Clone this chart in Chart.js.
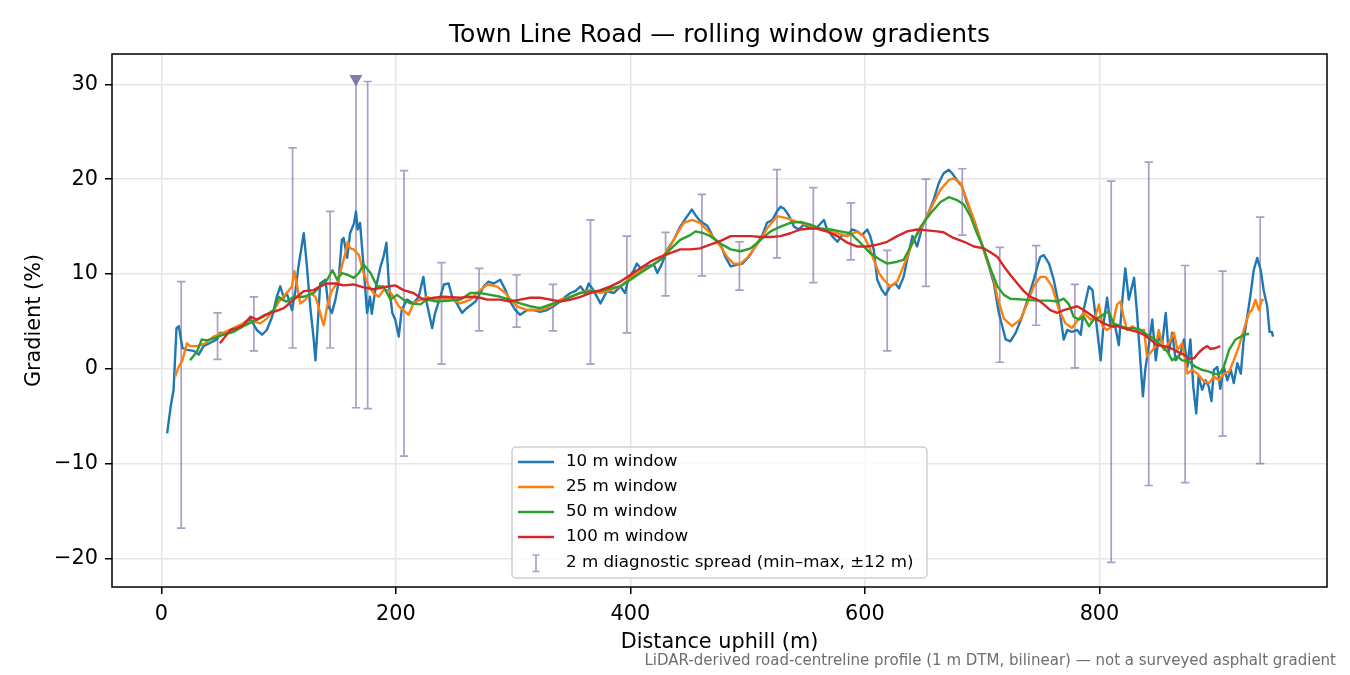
<!DOCTYPE html>
<html>
<head>
<meta charset="utf-8">
<title>Town Line Road gradients</title>
<script src="https://cdn.jsdelivr.net/npm/chart.js@4.4.1/dist/chart.umd.min.js"></script>
<style>
  html, body { margin: 0; padding: 0; background: #fff; }
</style>
</head>
<body>
<canvas id="myChart" width="1350" height="675"></canvas>
<script>
// [distance m, gradient %]
const profile10 = [
  [5,-6.8],[8,-4.0],[10.5,-2.2],[13,4.3],[15,4.5],[18,2.2],[22,2.0],[27.5,1.9],[32,1.5],[36,2.4],
  [47.5,3.1],[50,3.8],[59,3.8],[64.5,4.3],[70,4.8],[76,5.3],[81.5,4.1],[86,3.6],[90,4.1],[94.5,5.5],
  [98.5,7.6],[101.5,8.7],[104.5,7.5],[107,8.0],[111.5,6.2],[114.5,8.3],[117,10.8],[121.5,14.3],[124,11.1],[127,6.6],
  [130,3.1],[131.5,0.9],[133,3.8],[135.5,9.0],[140,9.4],[142.5,6.6],[145.5,5.9],[148.5,7.3],[151,9.0],[154,13.6],
  [155.5,13.8],[158.5,11.7],[161,14.3],[164.5,15.4],[166,16.6],[167.5,14.7],[169.5,15.4],[172.5,10.8],[175.5,5.9],[178,7.6],
  [179.5,5.8],[182.5,8.3],[187,10.8],[189.5,11.8],[192,13.3],[194,9.0],[197,5.9],[199.5,5.2],[202.5,3.4],[205,6.2],
  [209.5,7.3],[215,6.9],[219.5,7.6],[223.5,9.7],[226.5,6.9],[231,4.3],[233.5,5.9],[238,7.6],[241,8.9],[245,9.0],
  [248,7.6],[252,6.9],[256.5,5.9],[260.5,6.4],[268,7.1],[275,8.7],[279,9.2],[283.5,9.0],[289,9.4],[293.5,8.3],
  [297.5,7.1],[302,6.2],[306,5.7],[312,6.2],[317.5,6.2],[323,6.0],[329,6.2],[334.5,6.6],[340,7.1],[344.5,7.6],
  [349,8.0],[353,8.2],[357.5,8.7],[361.5,8.0],[364.5,9.0],[368.5,8.3],[374.5,6.9],[380,8.2],[386,8.0],[391.5,8.7],
  [395.5,8.0],[398.5,9.6],[403,10.4],[405.5,11.1],[410,10.4],[414,10.8],[420,11.0],[423,10.1],[427,11.1],[431.5,12.6],
  [437,13.6],[442.5,15.0],[448.5,16.1],[452.5,16.8],[455.5,16.2],[459.5,15.6],[465.5,15.1],[471,13.8],[477,13.1],[481,11.8],
  [485.5,10.8],[491,11.0],[495.5,11.1],[501,11.8],[506.5,12.9],[512.5,14.1],[516.5,15.4],[521,15.7],[525,16.6],[528,17.1],
  [531,16.9],[535,16.2],[539.5,15.0],[543.5,14.7],[548,15.2],[553.5,14.8],[559,14.9],[565,15.7],[567.5,14.8],[572,14.0],
  [576.5,13.4],[580.5,14.1],[585,14.0],[589,14.7],[593.5,14.5],[597.5,14.1],[602,14.7],[604.5,14.0],[607.5,12.6],[610.5,9.4],
  [614.5,8.3],[617.5,7.8],[621.5,8.7],[626,9.0],[629,8.5],[633,9.7],[636,11.5],[640.5,14.0],[644.5,12.9],[649,15.0],
  [653,16.1],[658.5,17.8],[663,19.6],[667,20.6],[671.5,21.0],[674.5,20.6],[678.5,19.9],[683,19.2],[687,17.5],[693,15.7],
  [698.5,13.6],[704,11.5],[710,9.0],[714,6.0],[720,3.1],[724,2.9],[728.5,3.8],[734,5.5],[739.5,7.6],[744,9.4],
  [747,10.8],[749.5,11.8],[752.5,12.0],[757,11.1],[761,9.4],[765.5,6.6],[769.5,3.1],[772.5,4.1],[776.5,3.9],[781,4.1],
  [784,3.6],[786.5,6.2],[791,8.7],[794,8.3],[798,4.1],[801,0.9],[803.5,4.8],[806.5,7.5],[809.5,4.5],[813.5,4.4],
  [816.5,2.5],[819.5,7.3],[822,10.6],[825,7.3],[829.5,9.6],[832,5.9],[835,0.6],[837,-2.9],[839,-0.1],[842,2.4],
  [845,5.2],[848,0.9],[850.5,3.4],[853.5,2.7],[856.5,5.9],[859,1.7],[862,3.8],[865,0.9],[869,1.6],[872,3.1],
  [875,0.2],[877.5,3.1],[880,-1.9],[882.5,-4.7],[884.5,-0.8],[887.5,-2.2],[890.5,-1.2],[893,-1.8],[895.5,-3.4],[897.5,-0.1],
  [900.5,0.2],[903,-2.1],[906,0.2],[909,-1.2],[912,-0.1],[914.5,-1.5],[917.5,0.6],[920.5,-0.5],[923,3.1],[926,5.5],
  [929,8.0],[931.5,10.4],[934.5,11.7],[937.5,10.4],[940,8.3],[943,6.6],[945,3.9],[947,3.9],[948,3.4]
]

const profile25 = [
  [12,-0.8],[14.5,0.1],[18,0.9],[22,2.7],[24.5,2.4],[30.5,2.4],[37.5,2.7],[44.5,3.4],[53,3.8],[61.5,4.3],
  [70,4.8],[78.5,5.0],[84.5,4.8],[90,5.3],[96,6.2],[101.5,7.3],[107,8.0],[111.5,8.7],[113.5,10.3],[115.5,9.0],
  [118.5,6.9],[123,7.3],[127,8.0],[131.5,7.6],[134,6.6],[137,5.2],[138.5,4.6],[141.5,6.6],[145.5,8.3],[150,9.0],
  [154,10.8],[157,12.2],[159,13.4],[161,12.7],[164,12.6],[168.5,12.0],[172.5,10.1],[177,8.7],[181,8.0],[185.5,7.6],
  [189.5,8.3],[194,8.3],[198,7.6],[202.5,6.6],[206.5,6.2],[211,5.7],[215,6.9],[221,7.3],[226.5,7.6],[232.5,7.3],
  [238,7.3],[246.5,7.4],[255,6.9],[263.5,7.3],[272,8.3],[278,8.9],[286,8.7],[293.5,8.0],[297.5,7.3],[303.5,6.6],
  [312,6.2],[323,6.2],[332,6.6],[340,7.3],[349,7.6],[357.5,8.0],[366,8.3],[374.5,8.0],[383,8.3],[391.5,8.7],
  [400,9.6],[408.5,10.3],[417,10.8],[425.5,11.5],[434,12.9],[440,14.3],[445.5,15.4],[452.5,15.7],[459.5,15.4],[468,14.3],
  [477,12.9],[482.5,11.8],[488,11.1],[494,11.1],[499.5,11.7],[505,12.6],[511,13.6],[516.5,14.8],[525,16.1],[533.5,15.9],
  [542,15.5],[550.5,15.2],[559,14.8],[567.5,14.5],[576.5,14.3],[585,14.0],[593.5,14.5],[599,14.0],[603.5,12.9],[607.5,11.5],
  [612,10.1],[616,9.4],[621.5,8.7],[627.5,9.2],[631.5,10.4],[636,11.8],[641.5,13.6],[647.5,14.7],[653,16.1],[658.5,17.5],
  [664.5,18.9],[671.5,19.9],[675.5,20.1],[681.5,19.6],[687,17.8],[693,15.7],[698.5,13.6],[704,11.5],[710,9.4],[713,7.5],
  [718.5,5.3],[725.5,4.5],[732.5,5.2],[738.5,6.9],[744,8.7],[749.5,9.7],[754,9.7],[759.5,8.7],[765.5,6.2],[771,4.8],
  [776.5,4.3],[782.5,5.3],[786.5,5.9],[792.5,5.2],[796.5,5.5],[799.5,6.8],[802.5,4.5],[806.5,4.1],[811,4.5],[815,6.8],
  [818,7.1],[820.5,5.5],[823.5,4.1],[828,4.5],[832,4.1],[838,4.1],[840.5,1.3],[843.5,1.7],[848,2.4],[850.5,4.1],
  [855,2.0],[859,2.7],[863.5,3.8],[866.5,2.0],[870.5,2.7],[875,-0.5],[879,-0.1],[883.5,-0.5],[889,-1.3],[893.5,-1.5],
  [897.5,-0.8],[902,-1.2],[906,-0.5],[910.5,-0.3],[914.5,0.9],[919,2.4],[923,4.1],[927.5,5.9],[930,6.2],[933,7.3],
  [936,6.2],[938.5,7.3],[940,7.2]
]

const profile50 = [
  [24.5,0.9],[30.5,1.8],[34.5,3.1],[39,3.0],[44.5,3.2],[53,3.6],[61.5,3.9],[70,4.5],[78.5,5.0],[87,5.5],
  [96,6.2],[100,7.6],[103,7.3],[107,7.1],[113,7.6],[121.5,7.6],[130,8.0],[135.5,8.7],[141.5,9.4],[146,10.4],
  [150,9.4],[154,10.1],[159.5,9.9],[164,9.6],[168.5,10.1],[172.5,11.0],[178.5,10.1],[184,8.7],[189.5,8.7],[195.5,7.3],
  [201,7.8],[206.5,7.3],[212.5,6.9],[221,6.8],[226.5,7.3],[235,7.1],[246.5,7.2],[255,7.3],[263.5,8.0],[272,8.0],
  [280.5,7.8],[289,7.6],[297.5,7.3],[306,6.9],[314.5,6.6],[323,6.4],[332,6.8],[340,7.1],[349,7.6],[357.5,8.0],
  [366,8.2],[374.5,8.2],[383,8.5],[391.5,8.7],[400,9.4],[408.5,10.1],[417,10.8],[425.5,11.5],[434,12.6],[442.5,13.6],
  [451,14.1],[455.5,14.5],[462.5,14.3],[468,14.0],[477,13.2],[485.5,12.6],[494,12.4],[502.5,12.7],[511,13.6],[519.5,14.5],
  [528,15.0],[536.5,15.4],[545,15.5],[553.5,15.2],[562,14.8],[570.5,14.7],[579,14.5],[587.5,14.3],[596,13.3],[604.5,12.2],
  [613,11.5],[619,11.1],[627.5,11.3],[633,11.5],[639,12.9],[647.5,15.0],[656,16.4],[664.5,17.6],[671.5,18.1],[678.5,17.8],
  [684.5,17.3],[690,16.1],[695.5,14.3],[701.5,12.6],[707,10.6],[713,8.7],[718.5,7.8],[724,7.4],[735.5,7.3],[747,7.2],
  [758,7.2],[764,7.1],[769.5,7.4],[774,6.8],[778,5.5],[782.5,5.2],[786.5,5.5],[791,4.5],[795,5.2],[801,5.5],
  [805,5.9],[808,6.0],[812,4.8],[818,4.5],[823.5,4.3],[829.5,4.3],[835,4.1],[840.5,3.6],[846.5,3.2],[852,2.5],
  [858,1.8],[862,0.9],[866.5,1.3],[870.5,0.9],[876,0.8],[882,0.2],[887.5,-0.1],[893.5,-0.3],[897.5,-0.5],[902,-0.6],
  [906,0.2],[910.5,2.0],[916,3.1],[920.5,3.4],[923,3.6],[927.5,3.7]
]

const profile100 = [
  [50,2.7],[54.5,3.4],[59,4.1],[64.5,4.3],[70,4.6],[76,5.5],[81.5,5.2],[88.5,5.7],[96,6.0],[104.5,6.4],
  [113,7.3],[121.5,8.2],[130,8.3],[135.5,8.7],[141.5,9.0],[148.5,9.0],[155.5,8.8],[164,8.9],[172.5,8.6],[181,8.4],
  [189.5,8.6],[199.5,8.8],[206.5,8.3],[215,8.0],[223.5,7.3],[232.5,7.5],[241,7.6],[255,7.5],[263.5,7.6],[272,7.5],
  [278,7.3],[289,7.3],[297.5,7.1],[306,7.3],[314.5,7.5],[323,7.5],[332,7.3],[340,7.1],[349,7.3],[357.5,7.6],
  [366,8.0],[374.5,8.3],[383,8.7],[391.5,9.2],[400,9.9],[408.5,10.6],[417,11.3],[425.5,11.8],[434,12.2],[442.5,12.6],
  [451,12.6],[459.5,12.7],[468,13.1],[477,13.5],[485.5,14.0],[494,14.0],[502.5,14.0],[511,13.9],[519.5,13.9],[528,14.0],
  [536.5,14.3],[545,14.7],[553.5,14.8],[559,14.8],[567.5,14.5],[576.5,14.0],[585,13.3],[593.5,12.9],[602,12.9],[610.5,13.1],
  [619,13.4],[627.5,14.0],[636,14.5],[644.5,14.7],[653,14.6],[661.5,14.5],[667,14.4],[675.5,13.8],[684.5,13.4],[693,12.9],
  [701.5,12.7],[707,12.3],[713,11.8],[718.5,10.8],[724,9.9],[730,9.0],[735.5,8.2],[741,7.6],[747,7.3],[752.5,6.8],
  [758,6.2],[764,5.9],[769.5,6.2],[775.5,6.4],[781,6.6],[786.5,6.2],[792.5,5.7],[798,5.2],[803.5,4.8],[809.5,4.5],
  [815,4.5],[820.5,4.3],[826.5,4.1],[832,3.9],[838,3.6],[843.5,3.1],[849,2.5],[855,2.4],[860.5,2.2],[866.5,1.8],
  [872,1.5],[876,1.1],[880.5,1.1],[884.5,1.7],[889,2.2],[892,2.4],[894.5,2.1],[899,2.2],[903,2.4]
]

// 2 m diagnostic spread, one bar every ~32 m
const spreadDist = [17, 48, 79, 112, 144, 176, 207, 239, 271, 303, 334, 366, 397, 430, 461,
  493, 525, 556, 588, 619, 652, 683, 715, 746, 779, 810, 842, 873, 905, 937]
const spreadMin = [-16.8, 1.0, 1.9, 2.2, 2.2, -4.2, -9.2, 0.5, 4.0, 4.4, 4.0, 0.5, 3.8, 7.7, 9.8,
  8.3, 11.7, 9.1, 11.5, 1.9, 8.7, 14.1, 0.7, 4.6, 0.1, -20.4, -12.3, -12.0, -7.1, -10.0]
const spreadMax = [9.2, 5.9, 7.6, 23.3, 16.6, 30.3, 20.9, 11.2, 10.6, 9.9, 8.9, 15.7, 14.0, 14.4, 18.4,
  13.4, 21.0, 19.1, 17.5, 12.5, 20.0, 21.1, 12.8, 13.0, 8.9, 19.8, 21.8, 10.9, 10.3, 16.0]
// bar whose max runs off the top: drawn to the marker
const clippedDist = [166]
const clippedMin = [-4.1]
const clippedTop = [30.4]

const xTicks = [0, 200, 400, 600, 800]
const yTicks = [-20, -10, 0, 10, 20, 30]

const seriesNames = ['10 m window', '25 m window', '50 m window', '100 m window']
const seriesColors = ['#1f77b4', '#ff7f0e', '#2ca02c', '#d62728']
const chartTitle = 'Town Line Road \u2014 rolling window gradients'
const spreadLabel = '2 m diagnostic spread (min\u2013max, \u00b112 m)'
const footnote = 'LiDAR-derived road-centreline profile (1 m DTM, bilinear) \u2014 not a surveyed asphalt gradient'

const FONT = 'DejaVu Sans'
const spreadColor = 'rgba(122,104,166,0.64)'
const markerColor = 'rgba(122,104,166,0.88)'

function toPoints(arr) {
  return arr.map(([x, y]) => ({x: x, y: y}))
}

const spreadPlugin = {
  id: 'spread',
  beforeDatasetsDraw(chart) {
    const {ctx, chartArea: a, scales: {x, y}} = chart
    ctx.save()
    ctx.beginPath()
    ctx.rect(a.left, a.top, a.right - a.left, a.bottom - a.top)
    ctx.clip()
    ctx.strokeStyle = spreadColor
    ctx.lineWidth = 1.7
    const cap = 4.2
    spreadDist.forEach((d, i) => {
      const px = x.getPixelForValue(d)
      const y0 = y.getPixelForValue(spreadMin[i])
      const y1 = y.getPixelForValue(spreadMax[i])
      ctx.beginPath()
      ctx.moveTo(px, y0); ctx.lineTo(px, y1)
      ctx.moveTo(px - cap, y0); ctx.lineTo(px + cap, y0)
      ctx.moveTo(px - cap, y1); ctx.lineTo(px + cap, y1)
      ctx.stroke()
    })
    clippedDist.forEach((d, i) => {
      const px = x.getPixelForValue(d)
      const y0 = y.getPixelForValue(clippedMin[i])
      const y1 = y.getPixelForValue(clippedTop[i])
      ctx.beginPath()
      ctx.moveTo(px, y0); ctx.lineTo(px, y1)
      ctx.moveTo(px - cap, y0); ctx.lineTo(px + cap, y0)
      ctx.stroke()
      // off-scale marker
      ctx.fillStyle = markerColor
      ctx.beginPath()
      ctx.moveTo(px - 6.5, y1 - 5.5)
      ctx.lineTo(px + 6.5, y1 - 5.5)
      ctx.lineTo(px, y1 + 6)
      ctx.closePath()
      ctx.fill()
    })
    ctx.restore()
  },
  afterDraw(chart) {
    const {ctx, chartArea: a} = chart
    ctx.save()
    // frame
    ctx.strokeStyle = '#000'
    ctx.lineWidth = 1.5
    ctx.strokeRect(a.left, a.top, a.right - a.left, a.bottom - a.top)

    // title, centred over the axes
    ctx.fillStyle = '#000'
    ctx.font = '25px "' + FONT + '"'
    ctx.textAlign = 'center'
    ctx.textBaseline = 'middle'
    ctx.fillText(chartTitle, (a.left + a.right) / 2, 35)

    // legend
    const lx = 512, ly = 447, lw = 415, lh = 131
    ctx.beginPath()
    ctx.roundRect(lx, ly, lw, lh, 4)
    ctx.fillStyle = 'rgba(255,255,255,0.8)'
    ctx.fill()
    ctx.strokeStyle = '#d0d0d0'
    ctx.lineWidth = 1.5
    ctx.stroke()

    ctx.font = '16.7px "' + FONT + '"'
    ctx.textBaseline = 'middle'
    ctx.textAlign = 'left'
    const rowY = [462, 487, 512, 537, 563]
    seriesNames.forEach((name, i) => {
      ctx.strokeStyle = seriesColors[i]
      ctx.lineWidth = 2.4
      ctx.beginPath()
      ctx.moveTo(518, rowY[i]); ctx.lineTo(554, rowY[i])
      ctx.stroke()
      ctx.fillStyle = '#000'
      ctx.fillText(name, 566, rowY[i])
    })
    ctx.strokeStyle = spreadColor
    ctx.lineWidth = 1.7
    ctx.beginPath()
    ctx.moveTo(536, 555); ctx.lineTo(536, 571.5)
    ctx.moveTo(532.5, 555); ctx.lineTo(539.5, 555)
    ctx.moveTo(532.5, 571.5); ctx.lineTo(539.5, 571.5)
    ctx.stroke()
    ctx.fillStyle = '#000'
    ctx.fillText(spreadLabel, 566, rowY[4])

    // footnote
    ctx.font = '15px "' + FONT + '"'
    ctx.fillStyle = '#6e6e6e'
    ctx.textAlign = 'right'
    ctx.textBaseline = 'alphabetic'
    ctx.fillText(footnote, 1336, 665)
    ctx.restore()
  }
}

const ctx = document.getElementById('myChart')

new Chart(ctx, {
  type: 'line',
  data: {
    datasets: [profile10, profile25, profile50, profile100].map((p, i) => ({
      label: seriesNames[i],
      data: toPoints(p),
      borderColor: seriesColors[i],
      backgroundColor: seriesColors[i],
      borderWidth: 2.4,
      borderJoinStyle: 'round',
      pointRadius: 0,
      tension: 0,
      fill: false,
      order: 4 - i
    }))
  },
  options: {
    responsive: false,
    animation: false,
    devicePixelRatio: 1,
    layout: {padding: {left: 0, right: 23, top: 54, bottom: 0}},
    plugins: {
      legend: {display: false},
      tooltip: {enabled: false},
      title: {display: false}
    },
    scales: {
      x: {
        type: 'linear',
        min: -42,
        max: 994,
        afterFit: s => { s.height = 88 },
        afterBuildTicks: s => { s.ticks = xTicks.map(v => ({value: v})) },
        grid: {color: '#e6e6e6', lineWidth: 1.5, tickColor: '#000', tickWidth: 1.5, tickLength: 7},
        border: {display: false},
        ticks: {
          color: '#000',
          padding: 8,
          maxRotation: 0,
          font: {family: FONT, size: 20.8}
        },
        title: {
          display: true,
          text: 'Distance uphill (m)',
          color: '#000',
          font: {family: FONT, size: 20.8},
          padding: {top: 0, bottom: 20}
        }
      },
      y: {
        type: 'linear',
        min: -23,
        max: 33.2,
        afterFit: s => { s.width = 112 },
        afterBuildTicks: s => { s.ticks = yTicks.map(v => ({value: v})) },
        grid: {color: '#e6e6e6', lineWidth: 1.5, tickColor: '#000', tickWidth: 1.5, tickLength: 7},
        border: {display: false},
        ticks: {
          color: '#000',
          padding: 7,
          font: {family: FONT, size: 20.8},
          callback: v => v < 0 ? '\u2212' + Math.abs(v) : String(v)
        },
        title: {
          display: true,
          text: 'Gradient (%)',
          color: '#000',
          font: {family: FONT, size: 20.8},
          padding: {top: 22, bottom: 0}
        }
      }
    }
  },
  plugins: [spreadPlugin]
})
</script>
</body>
</html>
